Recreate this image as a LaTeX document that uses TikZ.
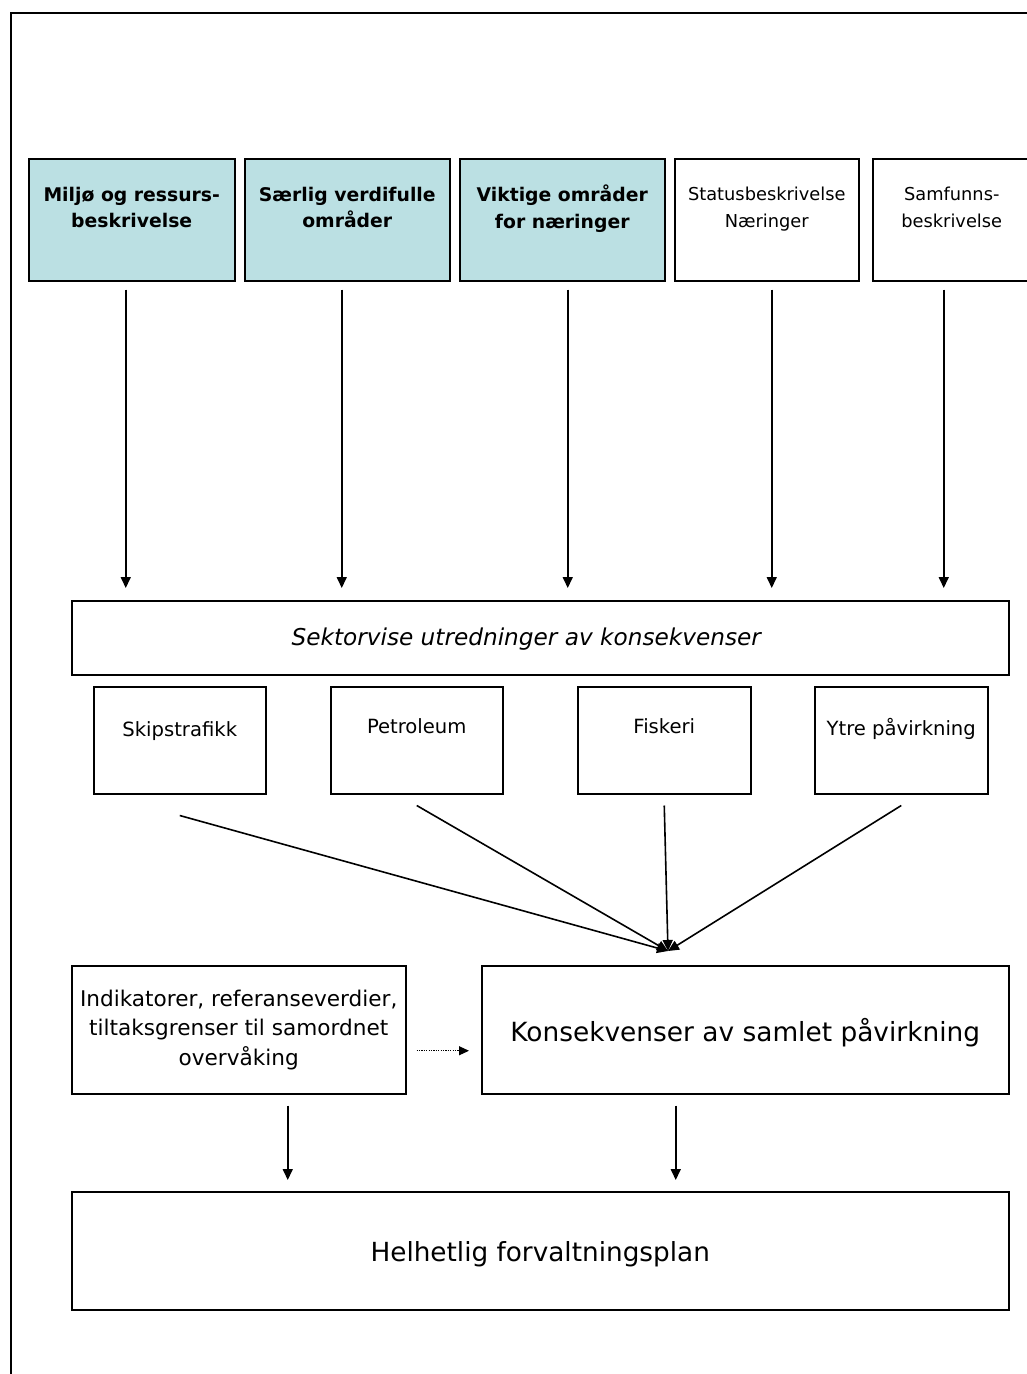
\documentclass[tikz,border=0pt]{standalone}
\usepackage{fontspec}
\setmainfont{DejaVu Sans}
\usetikzlibrary{arrows.meta}
\definecolor{boxblue}{RGB}{187,224,227}

\tikzset{
  box/.style={draw, line width=1.5pt, inner sep=0pt, anchor=north west, align=center},
  tinted/.style={fill=boxblue},
  tx/.style={anchor=north, align=center, inner sep=0pt},
  toptxt/.style={tx, font=\fontsize{17.8}{26.5}\selectfont},
  topbold/.style={tx, font=\fontsize{18.8}{26.5}\selectfont\bfseries},
  subtxt/.style={tx, font=\fontsize{19.6}{24}\selectfont},
  arr/.style={-{Triangle[length=11pt,width=10pt]}, line width=1.6pt},
}

\begin{document}
\begin{tikzpicture}[x=1pt,y=-1pt]
\useasboundingbox (0,0) rectangle (1027,1374);
% outer frame, only top and left edge are visible
\draw[line width=2pt] (11,1374) -- (11,13) -- (1027,13);

% top row: the descriptions
\node[box,tinted,minimum width=206pt,minimum height=122pt,
  label={[topbold,yshift=-29pt]north:Miljø og ressurs-\\beskrivelse}] (miljo) at (28,158) {};
\node[box,tinted,minimum width=205pt,minimum height=122pt,
  label={[topbold,yshift=-29pt]north:Særlig verdifulle\\områder}] (saerlig) at (244,158) {};
\node[box,tinted,minimum width=205pt,minimum height=122pt,
  label={[topbold,yshift=-27pt]north:Viktige områder\\for næringer}] (viktige) at (459,158) {};
\node[box,minimum width=184pt,minimum height=122pt,
  label={[toptxt,yshift=-29pt]north:Statusbeskrivelse\\Næringer}] (status) at (674,158) {};
\node[box,minimum width=158pt,minimum height=122pt,
  label={[toptxt,yshift=-29pt]north:Samfunns-\\beskrivelse}] (samfunn) at (872,158) {};

% sector studies
\node[box,minimum width=937pt,minimum height=74pt,
  label={[tx,anchor=center,xshift=-14pt,yshift=-1pt,
    font=\fontsize{23.2}{28}\selectfont\itshape]center:Sektorvise utredninger av konsekvenser}]
  (sektor) at (71,600) {};

\node[box,minimum width=172pt,minimum height=107pt,
  label={[subtxt,yshift=-35pt]north:Skipstrafikk}] (skip) at (93,686) {};
\node[box,minimum width=172pt,minimum height=107pt,
  label={[subtxt,yshift=-32pt]north:Petroleum}] (petro) at (330,686) {};
\node[box,minimum width=173pt,minimum height=107pt,
  label={[subtxt,yshift=-32pt]north:Fiskeri}] (fisk) at (577,686) {};
\node[box,minimum width=173pt,minimum height=107pt,
  label={[subtxt,yshift=-32pt]north:Ytre påvirkning}] (ytre) at (814,686) {};

% bottom part
\node[box,minimum width=334pt,minimum height=128pt,
  font=\fontsize{21.6}{29.5}\selectfont] (indik) at (71,965)
  {Indikatorer, referanseverdier,\\tiltaksgrenser til samordnet\\overvåking};
\node[box,minimum width=527pt,minimum height=128pt,
  label={[tx,anchor=center,yshift=-3pt,font=\fontsize{26.4}{32}\selectfont]center:Konsekvenser av samlet påvirkning}]
  (konsek) at (481,965) {};
\node[box,minimum width=937pt,minimum height=118pt,
  label={[tx,anchor=center,yshift=-3pt,font=\fontsize{26.3}{32}\selectfont]center:Helhetlig forvaltningsplan}]
  (helhet) at (71,1191) {};

% arrows down into the sector box
\foreach \n/\dx in {miljo/-6,saerlig/-5.5,viktige/5.5,status/5,samfunn/-8}
  \draw[arr] ([xshift=\dx pt,yshift=-8pt]\n.south)
    -- ([xshift=\dx pt,yshift=12pt]\n.south |- sektor.north);

% the sectors meet in one point
\coordinate (meet) at (668,951);
\draw[arr] ([yshift=-21pt]skip.south) -- (meet);
\foreach \n in {petro,fisk,ytre}
  \draw[arr] ([yshift=-11pt]\n.south) -- (meet);

\draw[-{Triangle[length=10pt,width=9pt]}, line width=1.1pt,
  dash pattern=on 1.2pt off 1.2pt]
  ([xshift=10pt,yshift=-21pt]indik.east) -- ([xshift=-12pt,yshift=-21pt]konsek.west);

\draw[arr] ([xshift=49pt,yshift=-11pt]indik.south)
  -- ([xshift=49pt,yshift=11pt]indik.south |- helhet.north);
\draw[arr] ([xshift=-69.5pt,yshift=-11pt]konsek.south)
  -- ([xshift=-69.5pt,yshift=11pt]konsek.south |- helhet.north);
\end{tikzpicture}
\end{document}
